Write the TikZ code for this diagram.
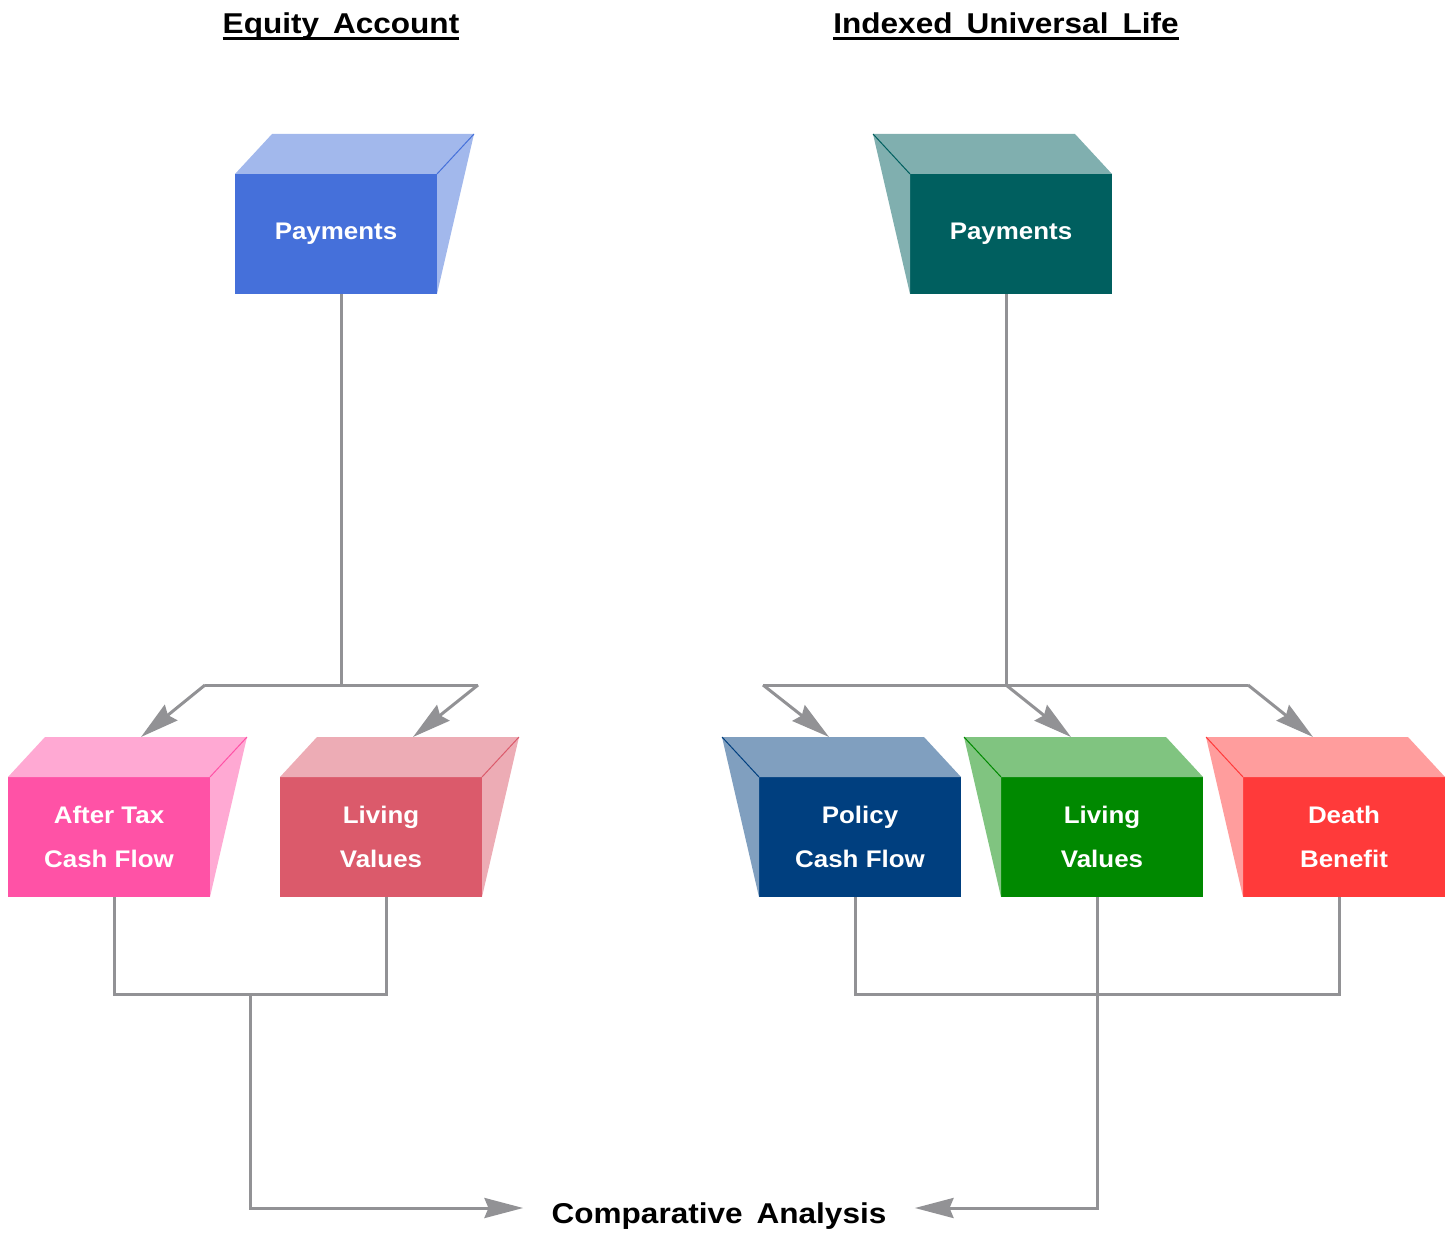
\documentclass[tikz,border=0pt]{standalone}
\usepackage{fontspec}
\setmainfont[FakeStretch=1.08]{Liberation Sans}
\newfontfamily\headfont[FakeStretch=1.1,WordSpace=1.6]{Liberation Sans}
\newcommand{\thickul}[1]{\leavevmode\setbox0\hbox{#1}\rlap{\rule[-5pt]{\wd0}{2.2pt}}\box0}
\usetikzlibrary{calc,arrows.meta}

\definecolor{payAcol}{HTML}{4570DA}
\definecolor{cashAcol}{HTML}{FF52A6}
\definecolor{liveAcol}{HTML}{DB5A6B}
\definecolor{payBcol}{HTML}{005F5F}
\definecolor{cashBcol}{HTML}{003F7F}
\definecolor{liveBcol}{HTML}{008900}
\definecolor{deathcol}{HTML}{FF3A3A}
\definecolor{linkgray}{HTML}{929295}

\tikzset{every picture/.style={line width=0.75pt}}
\tikzset{
  frontbox/.style={fill=#1, draw=none, inner sep=0pt, outer sep=0pt,
    minimum width=151.5pt, minimum height=90pt, text=white, align=center,
    font=\bfseries\fontsize{18pt}{33pt}\selectfont},
  conn/.style={draw=linkgray, line width=2.25pt},
  tip/.style={-{Stealth[length=29pt,width=15pt,inset=3pt]}},
  heading/.style={font=\headfont\bfseries\fontsize{21.5pt}{25pt}\selectfont},
}

% top and side faces, depth to the right
\newcommand{\facesright}[2]{%
  \fill[#2!50] (#1.north west) -- ++(37,-40) -- ($(#1.north east)+(37,-40)$) -- (#1.north east) -- cycle;
  \fill[#2!50] (#1.north east) -- ++(37,-40) -- (#1.south east) -- cycle;
  \draw[#2] (#1.north east) -- ++(37,-40);
  \coordinate (#1top) at ($(#1.north)+(32,-40)$);
}
% top and side faces, depth to the left
\newcommand{\facesleft}[2]{%
  \fill[#2!50] (#1.north east) -- ++(-37,-40) -- ($(#1.north west)+(-37,-40)$) -- (#1.north west) -- cycle;
  \fill[#2!50] (#1.north west) -- ++(-37,-40) -- (#1.south west) -- cycle;
  \draw[#2] (#1.north west) -- ++(-37,-40);
  \coordinate (#1top) at ($(#1.north)+(-31,-40)$);
}

\begin{document}
\begin{tikzpicture}[x=0.75pt,y=0.75pt,yscale=-1,xscale=1]
\useasboundingbox (0,0) rectangle (1453,1234);

% Headings
\node[heading] (titleA) at (341,26) {\thickul{Equity Account}};
\node[heading] (titleB) at (1006,26) {\thickul{Indexed Universal Life}};

%Shape: Payments boxes
\node[frontbox=payAcol] (payA) at (336,234) {Payments};
\facesright{payA}{payAcol}
\node[frontbox=payBcol] (payB) at (1011,234) {Payments};
\facesleft{payB}{payBcol}

%Shape: Equity account outputs
\node[frontbox=cashAcol] (cashA) at (109,837) {After Tax\\Cash Flow};
\facesright{cashA}{cashAcol}
\node[frontbox=liveAcol] (liveA) at (381,837) {Living\\Values};
\facesright{liveA}{liveAcol}

%Shape: IUL outputs
\node[frontbox=cashBcol] (cashB) at (860,837) {Policy\\Cash Flow};
\facesleft{cashB}{cashBcol}
\node[frontbox=liveBcol] (liveB) at (1102,837) {Living\\Values};
\facesleft{liveB}{liveBcol}
\node[frontbox=deathcol] (death) at (1344,837) {Death\\Benefit};
\facesleft{death}{deathcol}

% Text Node
\node[heading, inner xsep=21pt, inner ysep=0pt] (comp) at (719,1216) {Comparative Analysis};

%Split points
\coordinate (splitA) at (341,685);
\coordinate (forkAl) at (205,685);
\coordinate (forkAr) at (478,685);
\coordinate (splitB) at (1006,685);
\coordinate (forkBl) at (763,685);
\coordinate (forkBr) at (1248,685);
\coordinate (mergeA) at (250,995);

%Left tree
\draw[conn] (payA.south -| splitA) -- (splitA);
\draw[conn] (forkAl) -- (forkAr);
\draw[conn, tip] (forkAl) -- (cashAtop);
\draw[conn, tip] (forkAr) -- (liveAtop);
%Right tree
\draw[conn] (payB.south -| splitB) -- (splitB);
\draw[conn] (forkBl) -- (forkBr);
\draw[conn, tip] (forkBl) -- (cashBtop);
\draw[conn, tip] (splitB) -- (liveBtop);
\draw[conn, tip] (forkBr) -- (deathtop);

%Merge lines
\draw[conn] ($(cashA.south)+(5,0)$) -- ++(0,97) -| ($(liveA.south)+(5,0)$);
\draw[conn, tip] (mergeA) |- ($(comp.west)+(0,-8)$);
\draw[conn] ($(cashB.south)+(-5,0)$) -- ++(0,97) -| ($(death.south)+(-5,0)$);
\draw[conn, tip] ($(liveB.south)+(-5,0)$) |- ($(comp.east)+(0,-8)$);

\end{tikzpicture}
\end{document}
